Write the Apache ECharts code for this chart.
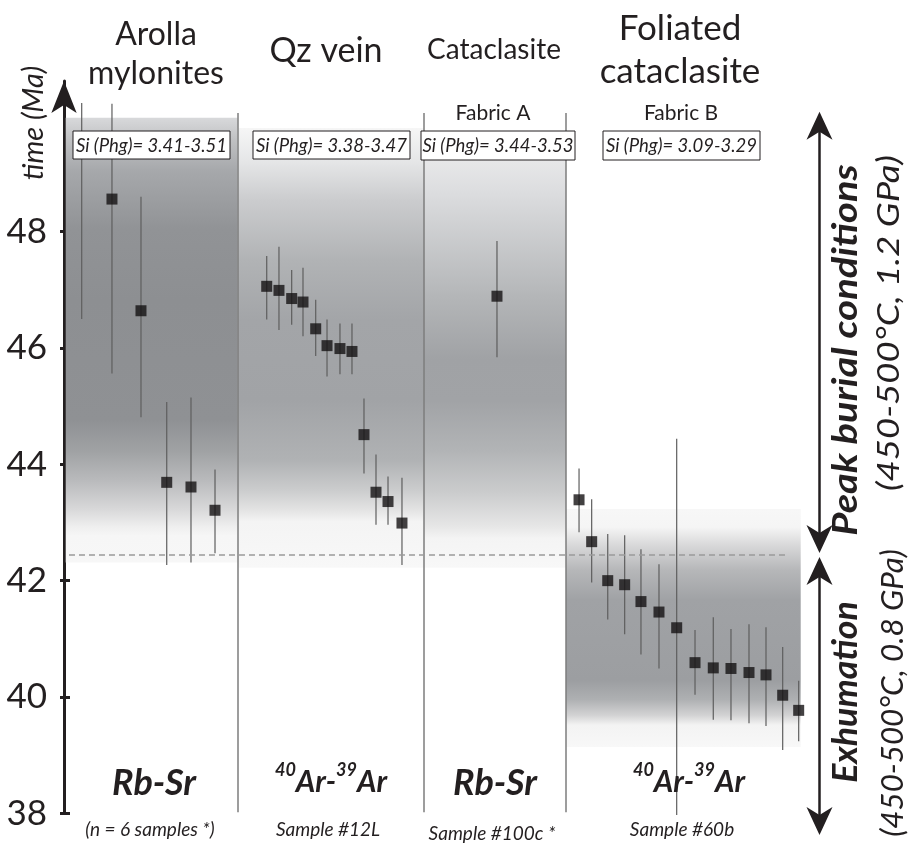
<!DOCTYPE html>
<html>
<head>
<meta charset="utf-8">
<script src="https://cdn.jsdelivr.net/npm/echarts@6/dist/echarts.min.js"></script>
<style>
  html, body { margin: 0; padding: 0; background: #fff; }
  #chart { width: 908px; height: 844px; }
</style>
</head>
<body>
<div id="chart"></div>
<script>
// tick labels of the time axis (Ma)
var yTicks = [38, 40, 42, 44, 46, 48]

// Arolla mylonites, Rb-Sr (first sample: error bar only)
var arollaX = [2.27, 6.15, 9.87, 13.17, 16.28, 19.36]
var arollaAge = [null, 48.56, 46.64, 43.69, 43.61, 43.21]
var arollaLow = [46.50, 45.56, 44.81, 42.27, 42.31, 42.47]
var arollaHigh = [50.21, 50.20, 48.60, 45.07, 45.15, 43.91]

// Qz vein, 40Ar-39Ar steps, sample #12L
var qzX = [25.99, 27.56, 29.19, 30.64, 32.27, 33.72, 35.38, 36.92, 38.46, 40.00, 41.54, 43.33]
var qzAge = [47.06, 46.99, 46.85, 46.79, 46.33, 46.04, 45.99, 45.94, 44.51, 43.52, 43.36, 42.99]
var qzLow = [46.49, 46.31, 46.40, 46.20, 45.86, 45.51, 45.55, 45.55, 43.84, 42.96, 42.96, 42.27]
var qzHigh = [47.58, 47.74, 47.34, 47.38, 46.83, 46.49, 46.42, 46.42, 45.13, 44.17, 43.79, 43.77]

// Cataclasite, Rb-Sr, sample #100c
var cataX = [55.51]
var cataAge = [46.89]
var cataLow = [45.84]
var cataHigh = [47.84]

// Foliated cataclasite, 40Ar-39Ar steps, sample #60b
var folX = [66.03, 67.65, 69.71, 71.88, 73.97, 76.28, 78.55, 80.90, 83.24, 85.51, 87.82, 90.00, 92.14, 94.19]
var folAge = [43.39, 42.67, 42.00, 41.93, 41.64, 41.46, 41.19, 40.59, 40.50, 40.49, 40.42, 40.38, 40.03, 39.77]
var folLow = [42.83, 41.97, 41.33, 41.08, 40.73, 40.49, 37.97, 40.04, 39.61, 39.60, 39.55, 39.50, 39.09, 39.24]
var folHigh = [43.93, 43.40, 42.80, 42.78, 42.54, 42.28, 44.44, 41.15, 41.37, 41.17, 41.25, 41.20, 40.86, 40.28]

// shaded age ranges per column
var bandX0 = [0.22, 22.27, 46.15, 64.36]
var bandX1 = [22.27, 46.15, 64.36, 94.45]
var bandTop = [49.96, 49.78, 49.40, 43.23]
var bandBottom = [42.31, 42.22, 42.22, 39.14]

// column separators and peak/exhumation boundary
var dividerX = [22.27, 46.15, 64.32]
var dividerY = [38.02, 50.04]
var boundaryAge = 42.45
var boundaryX = [0.64, 92.44]

var FONT = 'Lato, "Open Sans", sans-serif'
var INK = '#231f20'

function grad (stops) {
  return {
    type: 'linear', x: 0, y: 0, x2: 0, y2: 1,
    colorStops: stops.map(function (s) { return { offset: s[0], color: s[1] } })
  }
}

var bandColors = [
  grad([[0, '#d8d9db'], [0.05, '#c0c1c3'], [0.12, '#a6a8ab'], [0.25, '#919396'], [0.41, '#8d8f92'],
    [0.68, '#8f9194'], [0.75, '#a0a2a4'], [0.815, '#b9babc'], [0.88, '#d8d8d9'], [0.92, '#efefef'], [0.94, '#f6f6f6'], [1, '#f7f7f7']]),
  grad([[0, '#f6f6f6'], [0.073, '#e6e7e8'], [0.164, '#cbccce'], [0.3, '#b1b3b5'], [0.436, '#a3a5a8'],
    [0.618, '#a1a3a6'], [0.755, '#b0b2b4'], [0.823, '#cbcccd'], [0.868, '#e3e3e3'], [0.895, '#f4f4f4'], [1, '#f8f8f8']]),
  grad([[0, '#ebebec'], [0.1, '#dcdddf'], [0.35, '#b4b6b8'], [0.5, '#a0a2a5'], [0.6, '#a1a3a6'],
    [0.72, '#b2b4b6'], [0.82, '#cbcccd'], [0.9, '#e6e6e6'], [0.93, '#f4f4f4'], [1, '#f8f8f8']]),
  grad([[0, '#f7f7f7'], [0.076, '#f5f5f5'], [0.15, '#d9d9da'], [0.256, '#b6b7b9'], [0.382, '#a0a2a5'],
    [0.72, '#9c9ea1'], [0.8, '#aeb0b2'], [0.866, '#d2d2d3'], [0.908, '#f3f3f3'], [1, '#f8f8f8']])
]

var groups = [
  [arollaX, arollaAge, arollaLow, arollaHigh],
  [qzX, qzAge, qzLow, qzHigh],
  [cataX, cataAge, cataLow, cataHigh],
  [folX, folAge, folLow, folHigh]
]

var errData = []
var pointData = []
groups.forEach(function (g) {
  g[0].forEach(function (x, i) {
    errData.push([x, g[2][i], g[3][i]])
    if (g[1][i] != null) pointData.push([x, g[1][i]])
  })
})

var areaData = bandX0.map(function (x0, i) {
  return [
    { xAxis: x0, yAxis: bandTop[i], itemStyle: { color: bandColors[i] } },
    { xAxis: bandX1[i], yAxis: bandBottom[i] }
  ]
})

var lineData = dividerX.map(function (x) {
  return [{ coord: [x, dividerY[0]] }, { coord: [x, dividerY[1]] }]
})

function txt (x, y, text, size, style, extra) {
  var o = {
    type: 'text', x: x, y: y, z: 100,
    style: {
      text: text, fill: INK,
      font: style + ' ' + size + 'px ' + FONT,
      align: 'center', verticalAlign: 'middle',
      textAlign: 'center', textVerticalAlign: 'middle'
    }
  }
  if (extra) Object.assign(o, extra)
  return o
}

function box (x, y, w, h, text) {
  return {
    type: 'group', z: 100,
    children: [
      { type: 'rect', z: 100, shape: { x: x, y: y, width: w, height: h }, style: { fill: '#fff', stroke: INK, lineWidth: 1 } },
      txt(x + w / 2, y + h / 2 + 1, text, 18.5, 'italic')
    ]
  }
}

function arrowHead (cx, tip, dir) {
  // dir = 1 pointing up, -1 pointing down
  return {
    type: 'polygon', z: 100,
    shape: { points: [[cx, tip], [cx + 13, tip + dir * 28], [cx, tip + dir * 20], [cx - 13, tip + dir * 28]] },
    style: { fill: INK }
  }
}

function arRich (x, y) {
  return {
    type: 'text', x: x, y: y, z: 100,
    style: {
      text: '{s|40}{m|Ar-}{s|39}{m|Ar}',
      align: 'center', verticalAlign: 'middle',
      textAlign: 'center', textVerticalAlign: 'middle',
      rich: {
        s: { font: 'bold italic 18px ' + FONT, fill: INK, verticalAlign: 'top', lineHeight: 36 },
        m: { font: 'bold italic 30px ' + FONT, fill: INK, verticalAlign: 'bottom', lineHeight: 36 }
      }
    }
  }
}

var ax = 819.5
var graphics = [
  txt(34, 123, 'time (Ma)', 29, 'italic', { rotation: Math.PI / 2 }),
  txt(156, 35, 'Arolla', 32, 'normal'),
  txt(156, 74, 'mylonites', 32, 'normal'),
  txt(326, 51, 'Qz vein', 34, 'normal'),
  txt(494, 50, 'Cataclasite', 28, 'normal'),
  txt(680, 29, 'Foliated', 35, 'normal'),
  txt(680, 72, 'cataclasite', 35, 'normal'),
  txt(493, 113, 'Fabric A', 21, 'normal'),
  txt(681, 113, 'Fabric B', 21, 'normal'),
  box(73, 131, 157, 28, 'Si (Phg)= 3.41-3.51'),
  box(253, 131, 157, 28, 'Si (Phg)= 3.38-3.47'),
  box(421, 131, 154, 29, 'Si (Phg)= 3.44-3.53'),
  box(603, 131, 157, 29, 'Si (Phg)= 3.09-3.29'),
  txt(154, 783, 'Rb-Sr', 36, 'bold italic'),
  arRich(331, 779),
  txt(495, 783, 'Rb-Sr', 36, 'bold italic'),
  arRich(689, 779),
  txt(150, 830, '(n = 6 samples *)', 19, 'italic'),
  txt(328, 830, 'Sample #12L', 19, 'italic'),
  txt(492, 834, 'Sample #100c *', 19, 'italic'),
  txt(682, 830, 'Sample #60b', 19, 'italic'),
  // burial / exhumation arrows
  { type: 'line', z: 100, shape: { x1: ax, y1: 125, x2: ax, y2: 540 }, style: { stroke: INK, lineWidth: 2.5 } },
  arrowHead(ax, 111.7, 1),
  arrowHead(ax, 553, -1),
  { type: 'line', z: 100, shape: { x1: ax, y1: 570, x2: ax, y2: 822 }, style: { stroke: INK, lineWidth: 2.5 } },
  arrowHead(ax, 557, 1),
  arrowHead(ax, 835, -1),
  txt(846, 350, 'Peak burial conditions', 35, 'bold italic', { rotation: Math.PI / 2, scaleX: 1.14 }),
  txt(889, 323, '(450-500°C, 1.2 GPa)', 31, 'italic', { rotation: Math.PI / 2, scaleX: 1.18 }),
  txt(846, 692, 'Exhumation', 35, 'bold italic', { rotation: Math.PI / 2, scaleX: 1.02 }),
  txt(893, 693, '(450-500°C, 0.8 GPa)', 31, 'italic', { rotation: Math.PI / 2, scaleX: 1.01 })
]

var chart = echarts.init(document.getElementById('chart'))
var option = {
  animation: false,
  backgroundColor: '#fff',
  grid: { left: 64, right: 64, top: 81, bottom: 30.7 },
  xAxis: { type: 'value', min: 0, max: 100, show: false },
  yAxis: [
    {
      type: 'value', min: 38, max: 50.59, position: 'left',
      splitLine: { show: false },
      axisLine: {
        show: true, onZero: false,
        symbol: ['none', 'arrow'], symbolSize: [19, 32],
        lineStyle: { color: INK, width: 3 }
      },
      axisTick: { show: true, length: 4, customValues: yTicks, lineStyle: { color: INK, width: 3 } },
      axisLabel: {
        customValues: yTicks, margin: 17, color: INK,
        fontSize: 35, fontFamily: FONT
      }
    },
    {
      type: 'value', min: 38, max: 50.59, position: 'left',
      splitLine: { show: false },
      axisLine: { show: false },
      axisTick: { show: true, inside: true, length: 6, customValues: yTicks, lineStyle: { color: INK, width: 3 } },
      axisLabel: { show: false }
    }
  ],
  graphic: graphics,
  series: [
    {
      name: 'bands',
      type: 'line',
      data: [],
      silent: true,
      markArea: { silent: true, data: areaData },
      markLine: {
        silent: true, symbol: 'none', label: { show: false },
        lineStyle: { color: '#7d7d7d', width: 1.5, type: 'solid' },
        data: lineData.concat([[
          { coord: [boundaryX[0], boundaryAge], lineStyle: { color: '#9a9a9a', width: 1.5, type: [6, 4] } },
          { coord: [boundaryX[1], boundaryAge] }
        ]])
      }
    },
    {
      name: 'error',
      type: 'custom',
      silent: true,
      data: errData,
      renderItem: function (params, api) {
        var lo = api.coord([api.value(0), api.value(1)])
        var hi = api.coord([api.value(0), api.value(2)])
        return {
          type: 'line',
          shape: { x1: lo[0], y1: lo[1], x2: hi[0], y2: hi[1] },
          style: { stroke: '#5e5e5e', lineWidth: 1.2 }
        }
      }
    },
    {
      name: 'age',
      type: 'scatter',
      symbol: 'rect',
      symbolSize: 11,
      silent: true,
      itemStyle: { color: '#141213' },
      data: pointData
    }
  ]
}
option && chart.setOption(option)
</script>
</body>
</html>
